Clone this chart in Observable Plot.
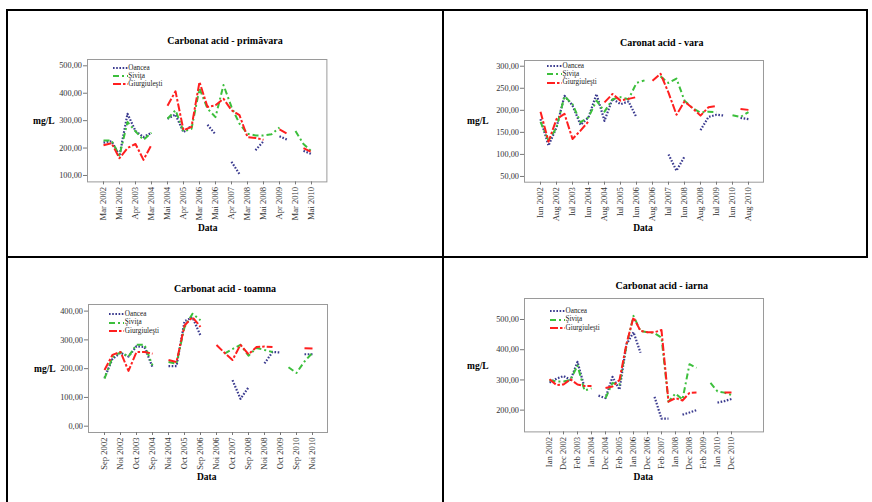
<!DOCTYPE html>
<html><head><meta charset="utf-8">
<script src="https://cdn.jsdelivr.net/npm/d3@7"></script>
<script src="https://cdn.jsdelivr.net/npm/@observablehq/plot@0.6"></script>
<style>
body{margin:0;background:#fff;}
#root{position:relative;width:872px;height:502px;overflow:hidden;font-family:"Liberation Serif","Times New Roman",serif;color:#000;}
.abs{position:absolute;white-space:nowrap;line-height:1;}
.title{font-weight:bold;font-size:10px;transform:translate(-50%,-50%);}
.ylab{font-weight:bold;font-size:9.5px;transform:translate(0,-50%);}
.xlab{font-weight:bold;font-size:9.5px;transform:translate(-50%,-50%);}
.leg{font-size:7.2px;color:#222;}
.bline{position:absolute;background:#000;}
</style></head><body><div id="root"></div>
<script>
// ---------- data ----------
const years = [2002,2003,2004,2005,2006,2007,2008,2009,2010];
const monthsSpring = ["Mar","Apr","Mai"];
const monthsSummer = ["Iun","Iul","Aug"];
const monthsAutumn = ["Sep","Oct","Noi"];
const monthsWinter = ["Ian","Feb","Dec"];
const seriesNames = ["Oancea","Şiviţa","Giurgiuleşti"];

const ticksSpring = ["Mar 2002","Mai 2002","Apr 2003","Mar 2004","Mai 2004","Apr 2005","Mar 2006","Mai 2006","Apr 2007","Mar 2008","Mai 2008","Apr 2009","Mar 2010","Mai 2010"];
const ticksSummer = ["Iun 2002","Aug 2002","Iul 2003","Iun 2004","Aug 2004","Iul 2005","Iun 2006","Aug 2006","Iul 2007","Iun 2008","Aug 2008","Iul 2009","Iun 2010","Aug 2010"];
const ticksAutumn = ["Sep 2002","Noi 2002","Oct 2003","Sep 2004","Noi 2004","Oct 2005","Sep 2006","Noi 2006","Oct 2007","Sep 2008","Noi 2008","Oct 2009","Sep 2010","Noi 2010"];
const ticksWinter = ["Ian 2002","Dec 2002","Feb 2003","Ian 2004","Dec 2004","Feb 2005","Ian 2006","Dec 2006","Feb 2007","Ian 2008","Dec 2008","Feb 2009","Ian 2010","Dec 2010"];
const extraWinter = ["Ian 2011"];

const ticksYSpring = [100,200,300,400,500];
const ticksYSummer = [50,100,150,200,250,300];
const ticksYAutumn = [0,100,200,300,400];
const ticksYWinter = [200,300,400,500];

// primăvara
const springOancea = [220,225,172,325,262,240,256,null,307,322,258,282,null,285,250,null,150,105,null,192,225,null,243,230,null,190,178];
const springSivita = [228,227,173,295,261,230,256,null,307,338,261,270,417,344,313,430,350,289,252,246,246,250,275,null,262,215,188];
const springGiurg  = [210,218,163,200,215,157,212,null,354,407,265,277,441,350,356,380,338,320,240,237,230,null,268,252,null,200,185];
// vara
const summerOancea = [180,120,161,233,211,167,184,237,176,226,214,220,184,null,null,null,100,63,95,null,155,185,190,188,null,183,180];
const summerSivita = [174,131,161,232,214,173,184,222,197,225,230,225,262,268,null,277,262,272,222,205,195,197,196,null,189,185,196];
const summerGiurg  = [197,129,180,192,135,154,175,null,218,237,222,226,230,null,267,283,240,190,220,205,188,207,210,null,null,203,201];
// toamna
const autumnOancea = [168,234,255,242,278,275,205,null,209,209,365,378,315,null,null,null,160,95,135,null,218,258,256,null,null,250,250];
const autumnSivita = [165,240,257,242,283,283,211,null,223,217,344,391,368,null,null,252,268,283,245,272,265,258,null,205,185,225,255];
const autumnGiurg  = [195,248,258,192,258,258,252,null,230,223,350,379,345,null,282,255,230,283,250,275,277,275,null,null,null,271,270];
// iarna
const winterOancea = [291,304,313,300,360,275,null,248,240,310,268,418,458,390,null,244,172,172,null,185,192,200,null,null,225,230,237,null];
const winterSivita = [299,295,295,300,348,265,272,null,240,290,285,415,512,462,458,455,440,228,255,235,352,340,null,290,262,258,250,null];
const winterGiurg  = [302,283,285,302,285,280,280,null,273,278,300,420,507,462,458,458,465,228,240,232,257,258,null,null,null,258,258,null];

// ---------- styles ----------
const colors = ["#3b3b8f","#3cbf3c","#ff1f1f"];
const dashes = ["1.6,1.6","6,3,2,3","8,2,2.5,2"];
const widths = [2.2,2,2];

function cats(months, extra=[]) {
  const out = [];
  for (const y of years) for (const m of months) out.push(`${m} ${y}`);
  return out.concat(extra);
}

const panels = [
  {title:"Carbonat acid - primăvara", cats:cats(monthsSpring), ticks:ticksSpring, yTicks:ticksYSpring,
   values:[springOancea,springSivita,springGiurg], frame:[87.3,326.7,59.3,181.7], yDomain:[76.6,523],
   titleXY:[225,41], ylabXY:[33,121.7], xlabXY:[207.7,229.3], legXY:[112.7,67.7]},
  {title:"Caronat acid - vara", cats:cats(monthsSummer), ticks:ticksSummer, yTicks:ticksYSummer,
   values:[summerOancea,summerSivita,summerGiurg], frame:[524.3,763.3,60,181.7], yDomain:[37,313],
   titleXY:[661.7,42.7], ylabXY:[467,122], xlabXY:[643,229.3], legXY:[547,66]},
  {title:"Carbonat acid - toamna", cats:cats(monthsAutumn), ticks:ticksAutumn, yTicks:ticksYAutumn,
   values:[autumnOancea,autumnSivita,autumnGiurg], frame:[88.3,327.3,304.3,432.3], yDomain:[-22,423],
   titleXY:[225,289], ylabXY:[34,370], xlabXY:[206.7,478.3], legXY:[109.3,314.3]},
  {title:"Carbonat acid - iarna", cats:cats(monthsWinter, extraWinter), ticks:ticksWinter, yTicks:ticksYWinter,
   values:[winterOancea,winterSivita,winterGiurg], frame:[524.3,763.3,298.3,431.7], yDomain:[128,569.5],
   titleXY:[661.7,285.7], ylabXY:[467,366.7], xlabXY:[643.3,478.3], legXY:[550,311.3]}
];

const root = document.getElementById("root");
function addDiv(cls, text, x, y) {
  const d = document.createElement("div");
  d.className = "abs " + cls;
  d.textContent = text;
  d.style.left = x + "px"; d.style.top = y + "px";
  root.appendChild(d);
  return d;
}

// table borders
[[6,9,862,2],[6,9,2,500],[442,9,2,500],[6,256,862,2],[866,9,2,249]].forEach(([x,y,w,h])=>{
  const b = document.createElement("div"); b.className="bline";
  Object.assign(b.style,{left:x+"px",top:y+"px",width:w+"px",height:h+"px"});
  root.appendChild(b);
});

const ML = 70, MR = 10, MT = 10, MB = 48;
const fmt = d => d.toFixed(2).replace(".", ",");

for (const p of panels) {
  const [L,R,T,B] = p.frame;
  const fw = R - L, fh = B - T;
  const rows = [];
  p.values.forEach((vals, s) => vals.forEach((v, i) => rows.push({cat: p.cats[i], v: v == null ? NaN : v, s})));
  const chart = Plot.plot({
    width: fw + ML + MR, height: fh + MT + MB,
    marginLeft: ML, marginRight: MR, marginTop: MT, marginBottom: MB,
    style: {fontFamily: "'Liberation Serif', 'Times New Roman', serif", background: "transparent", overflow: "visible"},
    x: {type: "point", domain: p.cats, padding: 1.44},
    y: {domain: p.yDomain},
    marks: [
      Plot.frame({stroke: "#9a9a9a"}),
      Plot.axisY({ticks: p.yTicks, tickFormat: fmt, tickSize: 4, tickPadding: 1.5, fontSize: 8.3, label: null, color: "#333", stroke: "#777"}),
      Plot.axisX({ticks: p.ticks, tickRotate: -90, tickSize: 3, tickPadding: 2, fontSize: 8.6, label: null, color: "#333", stroke: "#777"}),
      ...[0,1,2].map(s => Plot.line(rows.filter(r => r.s === s), {
        x: "cat", y: "v", stroke: colors[s], strokeWidth: widths[s], strokeDasharray: dashes[s], strokeLinecap: "butt"
      }))
    ]
  });
  chart.style.position = "absolute";
  chart.style.left = (L - ML) + "px";
  chart.style.top = (T - MT) + "px";
  root.appendChild(chart);

  addDiv("title", p.title, p.titleXY[0], p.titleXY[1]);
  addDiv("ylab", "mg/L", p.ylabXY[0], p.ylabXY[1]);
  addDiv("xlab", "Data", p.xlabXY[0], p.xlabXY[1]);

  // legend
  const [lx, ly] = p.legXY;
  seriesNames.forEach((name, s) => {
    const yy = ly + s * 8.3;
    const svg = document.createElementNS("http://www.w3.org/2000/svg", "svg");
    svg.setAttribute("width", 16); svg.setAttribute("height", 4);
    Object.assign(svg.style, {position: "absolute", left: lx + "px", top: (yy - 2) + "px"});
    const ln = document.createElementNS("http://www.w3.org/2000/svg", "line");
    ln.setAttribute("x1", 0); ln.setAttribute("x2", 15); ln.setAttribute("y1", 2); ln.setAttribute("y2", 2);
    ln.setAttribute("stroke", colors[s]); ln.setAttribute("stroke-width", widths[s]);
    ln.setAttribute("stroke-dasharray", dashes[s]);
    svg.appendChild(ln);
    root.appendChild(svg);
    addDiv("leg", name, lx + 15.5, yy - 3.2);
  });
}
</script></body></html>
